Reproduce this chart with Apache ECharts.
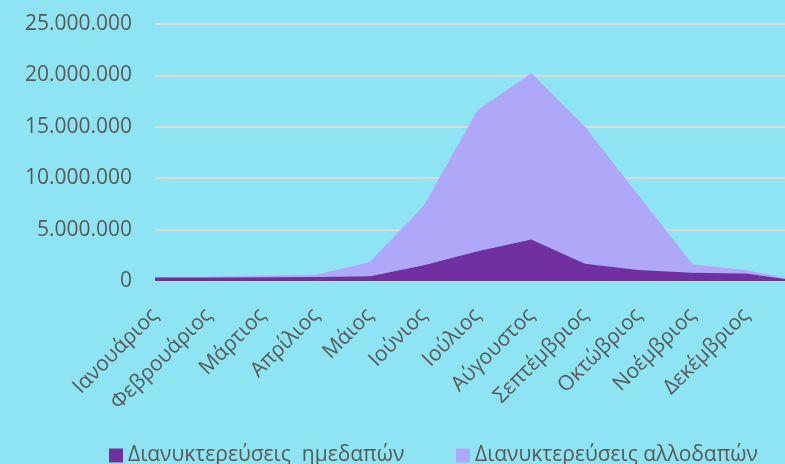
<!DOCTYPE html>
<html>
<head>
<meta charset="utf-8">
<script src="https://cdn.jsdelivr.net/npm/echarts@6/dist/echarts.min.js"></script>
<style>
  html, body { margin: 0; padding: 0; background: #8ee4f2; }
  #chart { width: 785px; height: 464px; }
</style>
</head>
<body>
<div id="chart"></div>
<script>
// μήνες (ο τελευταίος κενός, η γραφική συνεχίζει έξω από το κάδρο)
const months = ['Ιανουάριος', 'Φεβρουάριος', 'Μάρτιος', 'Απρίλιος', 'Μάιος', 'Ιούνιος',
  'Ιούλιος', 'Αύγουστος', 'Σεπτέμβριος', 'Οκτώβριος', 'Νοέμβριος', 'Δεκέμβριος', ''];

// διανυκτερεύσεις ημεδαπών
const domestic = [330000, 330000, 360000, 400000, 450000, 1520000,
  2900000, 4040000, 1680000, 1060000, 810000, 720000, 0];

// διανυκτερεύσεις αλλοδαπών
const foreign = [50000, 90000, 140000, 220000, 1410000, 5810000,
  13700000, 16160000, 13320000, 7240000, 810000, 320000, 0];

const seriesNames = ['Διανυκτερεύσεις  ημεδαπών', 'Διανυκτερεύσεις αλλοδαπών'];

const textColor = '#595959';
const font = 'Open Sans';

function dots(v) {
  return String(v).replace(/\B(?=(\d{3})+(?!\d))/g, '.');
}

let myChart = echarts.init(document.getElementById('chart'));
let option = {
  backgroundColor: '#8ee4f2',
  animation: false,
  textStyle: { fontFamily: font },
  grid: { left: 155, width: 645, top: 24, bottom: 183, outerBoundsMode: 'none' },
  legend: [
    {
      data: [seriesNames[0]],
      left: 104, top: 440,
      itemWidth: 14, itemHeight: 14,
      icon: 'rect',
      textStyle: { color: textColor, fontSize: 21, fontFamily: font }
    },
    {
      data: [seriesNames[1]],
      left: 451, top: 440,
      itemWidth: 14, itemHeight: 14,
      icon: 'rect',
      textStyle: { color: textColor, fontSize: 21, fontFamily: font }
    }
  ],
  xAxis: {
    type: 'category',
    boundaryGap: false,
    data: months,
    axisLine: { lineStyle: { color: '#d9d9d9', width: 2 } },
    axisTick: { show: false },
    axisLabel: {
      rotate: 45,
      interval: 0,
      margin: 31,
      color: textColor,
      fontSize: 21,
      fontFamily: font
    }
  },
  yAxis: {
    type: 'value',
    min: 0,
    max: 25000000,
    interval: 5000000,
    axisLine: { show: false },
    axisTick: { show: false },
    splitLine: { lineStyle: { color: '#d9d9d9', width: 2 } },
    axisLabel: {
      margin: 23,
      color: textColor,
      fontSize: 21,
      fontFamily: font,
      formatter: dots
    }
  },
  series: [
    {
      name: seriesNames[0],
      type: 'line',
      stack: 'total',
      data: domestic,
      showSymbol: false,
      lineStyle: { width: 0 },
      itemStyle: { color: '#7030a0' },
      areaStyle: { color: '#7030a0', opacity: 1 },
      z: 3
    },
    {
      name: seriesNames[1],
      type: 'line',
      stack: 'total',
      data: foreign,
      showSymbol: false,
      lineStyle: { width: 0 },
      itemStyle: { color: '#afa8f8' },
      areaStyle: { color: '#afa8f8', opacity: 1 },
      z: 2
    }
  ]
};
myChart.setOption(option);
</script>
</body>
</html>
